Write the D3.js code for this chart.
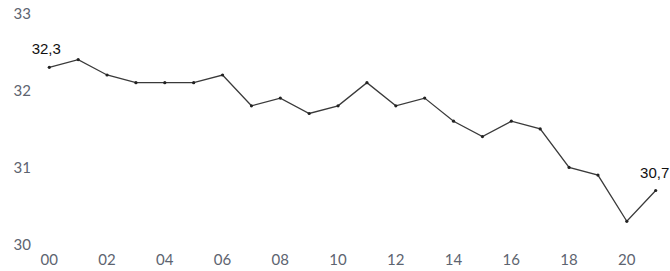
<!DOCTYPE html>
<html>
<head>
<meta charset="utf-8">
<script src="https://cdn.jsdelivr.net/npm/d3@7"></script>
<style>
  body { margin: 0; background: #fff; }
  svg { display: block; }
</style>
</head>
<body>
<div id="chart"></div>
<script>
const years = ["00","01","02","03","04","05","06","07","08","09","10",
               "11","12","13","14","15","16","17","18","19","20","21"];
const values = [32.3, 32.4, 32.2, 32.1, 32.1, 32.1, 32.2, 31.8, 31.9, 31.7, 31.8,
                32.1, 31.8, 31.9, 31.6, 31.4, 31.6, 31.5, 31.0, 30.9, 30.3, 30.7];
const yTicks = [30, 31, 32, 33];
const xTickLabels = ["00","02","04","06","08","10","12","14","16","18","20"];

function main() {
    const width = 670, height = 271;

    const svg = d3.select("#chart").append("svg")
        .attr("width", width)
        .attr("height", height);

    const x = d3.scaleLinear().domain([0, years.length - 1]).range([49.3, 655.7]);
    const y = d3.scaleLinear().domain([30, 33]).range([244.4, 13.4]);

    // y labels, no axis line
    svg.append("g")
        .selectAll("text")
        .data(yTicks)
        .enter().append("text")
        .attr("x", 31)
        .attr("y", d => y(d))
        .attr("dy", "0.36em")
        .attr("text-anchor", "end")
        .attr("font-family", "Lato, sans-serif")
        .attr("font-size", 15)
        .attr("fill", "#5d6470")
        .text(d => d);

    // x labels every second year
    svg.append("g")
        .selectAll("text")
        .data(xTickLabels)
        .enter().append("text")
        .attr("x", d => x(years.indexOf(d)))
        .attr("y", 265)
        .attr("text-anchor", "middle")
        .attr("font-family", "Lato, sans-serif")
        .attr("font-size", 15)
        .attr("fill", "#5d6470")
        .text(d => d);

    const line = d3.line()
        .x((d, i) => x(i))
        .y(d => y(d));

    svg.append("path")
        .datum(values)
        .attr("fill", "none")
        .attr("stroke", "#3a3a3a")
        .attr("stroke-width", 1.3)
        .attr("d", line);

    svg.append("g")
        .selectAll("circle")
        .data(values)
        .enter().append("circle")
        .attr("cx", (d, i) => x(i))
        .attr("cy", d => y(d))
        .attr("r", 1.6)
        .attr("fill", "#222");

    // first and last value labels
    const ends = [0, values.length - 1];
    svg.append("g")
        .selectAll("text")
        .data(ends)
        .enter().append("text")
        .attr("x", i => i === 0 ? x(i) - 3 : x(i) - 1)
        .attr("y", i => y(values[i]) - 13)
        .attr("text-anchor", "middle")
        .attr("font-family", "Liberation Sans, Arial, sans-serif")
        .attr("font-size", 15)
        .attr("fill", "#111")
        .text(i => String(values[i].toFixed(1)).replace(".", ","));
}
main();
</script>
</body>
</html>
